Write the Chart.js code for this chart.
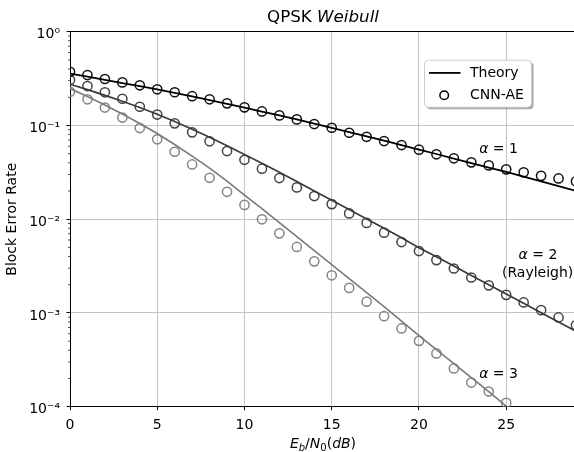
<!DOCTYPE html>
<html><head><meta charset="utf-8">
<script src="https://cdn.jsdelivr.net/npm/chart.js@4.4.1/dist/chart.umd.min.js"></script>
<style>
html,body{margin:0;padding:0;overflow:hidden;background:#fff;width:574px;height:452px}
#wrap{position:absolute;left:0;top:0;width:600px;height:452px}
</style>
</head><body><div id="wrap"><canvas id="c" width="600" height="452"></canvas></div>
<script>
// ---------- data ----------
const snrDb = [0,1,2,3,4,5,6,7,8,9,10,11,12,13,14,15,16,17,18,19,20,21,22,23,24,25,26,27,28,29];
const theoryA1 = [0.358,0.3318,0.3067,0.2835,0.2621,0.2422,0.2228,0.2040,0.1862,0.1696,0.1545,0.1407,0.1279,0.1159,0.1048,0.0945,0.0850,0.0765,0.0687,0.0616,0.0553,0.0496,0.0444,0.0397,0.0355,0.0320,0.0284,0.0253,0.02255,0.02004];
const cnnA1 = [0.374,0.345,0.313,0.288,0.268,0.243,0.226,0.205,0.190,0.172,0.156,0.141,0.128,0.116,0.1035,0.0945,0.0836,0.0757,0.0682,0.0618,0.0551,0.0492,0.0446,0.0404,0.0375,0.034,0.0316,0.029,0.0272,0.0253];
const theoryA2 = [0.2752,0.2410,0.2096,0.1813,0.1552,0.1317,0.1100,0.0911,0.0748,0.0609,0.0491,0.0395,0.0316,0.0252,0.02004,0.01595,0.01266,0.01007,0.00800,0.00633,0.00497,0.00397,0.00316,0.00251,0.00200,0.00159,0.001266,0.001007,0.000801,0.000638];
const cnnA2 = [0.3051,0.2633,0.2256,0.1927,0.1583,0.1307,0.1053,0.0844,0.0677,0.0533,0.0430,0.0346,0.02745,0.02185,0.01764,0.01449,0.01153,0.00913,0.00719,0.00570,0.00457,0.00366,0.00298,0.00239,0.00197,0.00156,0.001294,0.001071,0.000895,0.000741];
const theoryA3 = [0.2477,0.2034,0.1651,0.1323,0.1048,0.0820,0.0626,0.0471,0.0351,0.0255,0.0181,0.01297,0.00920,0.00652,0.00462,0.00328,0.00232,0.00165,0.001167,0.000818,0.000572,0.000406,0.000288,0.000204,0.0001446,0.0001012,0.0000718];
const cnnA3 = [0.2289,0.1899,0.1552,0.1214,0.0938,0.0711,0.0524,0.0384,0.02765,0.01961,0.01421,0.00998,0.00706,0.00506,0.00355,0.00252,0.00185,0.00132,0.000924,0.000683,0.000504,0.000370,0.000256,0.000181,0.0001453,0.0001098];

const xTicks = [0,5,10,15,20,25];
const yMajorTicks = [1,0.1,0.01,0.001,0.0001];
const yTickLabels = ['10\u2070','10\u207B\u00B9','10\u207B\u00B2','10\u207B\u00B3','10\u207B\u2074'];
const legendLabels = ['Theory','CNN-AE'];
const curveLabels = [
  {parts:[['\u03B1',true],[' = 1',false]], x:24.56, y:0.0504},
  {parts:[['\u03B1',true],[' = 2',false]], x:26.82, y:0.00372},
  {parts:[['(Rayleigh)',false]], x:26.8, y:0.00241},
  {parts:[['\u03B1',true],[' = 3',false]], x:24.56, y:0.000203}
];

// ---------- helpers ----------
const FONT = '"DejaVu Sans", sans-serif';
const pts = (arr) => arr.map((v,i)=>({x:snrDb[i], y:v}));
const isMajor = v => Math.abs(Math.log10(v) - Math.round(Math.log10(v))) < 1e-6;
const align = (p,w) => Math.round(p - w/2) + w/2;

function lineDs(data,color,width){
  return {data:pts(data), showLine:true, borderColor:color, borderWidth:width, pointRadius:0, pointHoverRadius:0, fill:false, tension:0};
}
function markDs(data,color){
  return {data:pts(data), showLine:false, pointStyle:'circle', pointRadius:4.6, pointBorderWidth:1.5,
          pointBorderColor:color, pointBackgroundColor:'rgba(0,0,0,0)', pointHoverRadius:4.6};
}

function drawParts(ctx, parts, cx, baseline, size){
  let w = 0;
  const fonts = parts.map(p => (p[1]?'italic ':'') + size + 'px ' + FONT);
  parts.forEach((p,i)=>{ctx.font=fonts[i]; w += ctx.measureText(p[0]).width;});
  let xx = cx - w/2;
  ctx.textAlign='left'; ctx.textBaseline='alphabetic';
  parts.forEach((p,i)=>{ctx.font=fonts[i]; ctx.fillText(p[0], xx, baseline); xx += ctx.measureText(p[0]).width;});
}

const decor = {
  id:'decor',
  afterDraw(chart){
    const {ctx, chartArea:a, scales:{x,y}} = chart;
    ctx.save();
    // spines (top & right)
    ctx.strokeStyle='#000'; ctx.lineWidth=1;
    ctx.beginPath();
    ctx.moveTo(a.left, align(a.top,1)); ctx.lineTo(a.right, align(a.top,1));
    ctx.moveTo(align(a.right,1), a.top); ctx.lineTo(align(a.right,1), a.bottom);
    ctx.stroke();
    // tick marks
    ctx.beginPath(); ctx.lineWidth=1;
    xTicks.forEach(v=>{const p=align(x.getPixelForValue(v),1); ctx.moveTo(p,a.bottom); ctx.lineTo(p,a.bottom+3.5);});
    yMajorTicks.forEach(v=>{const p=align(y.getPixelForValue(v),1); ctx.moveTo(a.left-3.5,p); ctx.lineTo(a.left,p);});
    ctx.stroke();
    ctx.beginPath(); ctx.lineWidth=0.7;
    y.ticks.forEach(t=>{ if(!isMajor(t.value)){const p=y.getPixelForValue(t.value); ctx.moveTo(a.left-2,p); ctx.lineTo(a.left,p);} });
    ctx.stroke();

    ctx.fillStyle='#000';
    // title
    const cx = (a.left+a.right)/2;
    drawParts(ctx, [['QPSK ',false],['Weibull',true]], cx, a.top-10, 16.7);
    // x label
    const xl = [['E',true,14,0],['b',true,10,3],['/',false,14,0],['N',true,14,0],['0',false,10,3],['(',false,14,0],['dB',true,14,0],[')',false,14,0]];
    let w=0; xl.forEach(p=>{ctx.font=(p[1]?'italic ':'')+p[2]+'px '+FONT; w+=ctx.measureText(p[0]).width;});
    let xx = cx - w/2; const bl = a.bottom + 41.5;
    ctx.textAlign='left'; ctx.textBaseline='alphabetic';
    xl.forEach(p=>{ctx.font=(p[1]?'italic ':'')+p[2]+'px '+FONT; ctx.fillText(p[0],xx,bl+p[3]); xx+=ctx.measureText(p[0]).width;});
    // y label
    ctx.save();
    ctx.translate(16,(a.top+a.bottom)/2); ctx.rotate(-Math.PI/2);
    ctx.font='14px '+FONT; ctx.textAlign='center'; ctx.textBaseline='alphabetic';
    ctx.fillText('Block Error Rate',0,0);
    ctx.restore();
    // curve labels
    curveLabels.forEach(c=>{ drawParts(ctx, c.parts, x.getPixelForValue(c.x), y.getPixelForValue(c.y), 14); });
    // legend
    const lx = a.left+354.5, ly = a.top+28.5, lw = 107, lh = 47;
    const rr = (X,Y,W,H,r)=>{ctx.beginPath();ctx.moveTo(X+r,Y);ctx.lineTo(X+W-r,Y);ctx.quadraticCurveTo(X+W,Y,X+W,Y+r);ctx.lineTo(X+W,Y+H-r);ctx.quadraticCurveTo(X+W,Y+H,X+W-r,Y+H);ctx.lineTo(X+r,Y+H);ctx.quadraticCurveTo(X,Y+H,X,Y+H-r);ctx.lineTo(X,Y+r);ctx.quadraticCurveTo(X,Y,X+r,Y);ctx.closePath();};
    ctx.fillStyle='rgba(0,0,0,0.35)'; rr(lx+2,ly+2,lw,lh,4); ctx.fill();
    ctx.fillStyle='#fff'; rr(lx,ly,lw,lh,4); ctx.fill();
    ctx.strokeStyle='#cccccc'; ctx.lineWidth=1; ctx.stroke();
    ctx.strokeStyle='#000'; ctx.lineWidth=1.8;
    ctx.beginPath(); ctx.moveTo(lx+4.5, ly+42.2-29.5); ctx.lineTo(lx+36, ly+12.7); ctx.stroke();
    ctx.lineWidth=1.5; ctx.beginPath(); ctx.arc(lx+19.7, ly+35, 4.3, 0, Math.PI*2); ctx.stroke();
    ctx.fillStyle='#000'; ctx.font='14px '+FONT; ctx.textAlign='left'; ctx.textBaseline='middle';
    ctx.fillText(legendLabels[0], lx+45.5, ly+13);
    ctx.fillText(legendLabels[1], lx+45.5, ly+35.5);
    ctx.restore();
  }
};

new Chart(document.getElementById('c'), {
  type:'scatter',
  data:{datasets:[
    lineDs(theoryA1,'#000000',1.8),
    markDs(cnnA1,'#111111'),
    lineDs(theoryA2,'#3a3a3a',1.7),
    markDs(cnnA2,'#444444'),
    lineDs(theoryA3,'#7a7a7a',1.6),
    markDs(cnnA3,'#858585')
  ]},
  options:{
    responsive:false, animation:false, devicePixelRatio:1,
    layout:{padding:{top:31.7,right:24,left:0,bottom:0}},
    plugins:{legend:{display:false}, tooltip:{enabled:false}, title:{display:false}},
    scales:{
      x:{type:'linear', min:0, max:29,
        afterBuildTicks:s=>{s.ticks = xTicks.map(v=>({value:v}));},
        afterFit:s=>{s.height=45.3;},
        grid:{color:'#c4c4c4', lineWidth:1, drawTicks:false},
        border:{display:true, color:'#000', width:1},
        ticks:{padding:10, color:'#000', font:{family:'DejaVu Sans', size:14}, maxRotation:0, autoSkip:false, callback:v=>String(v)}
      },
      y:{type:'logarithmic', min:0.0001, max:1,
        afterBuildTicks:s=>{
          const t=[];
          yMajorTicks.forEach(m=>{ t.push({value:m}); if(m<1){ for(let k=2;k<=9;k++) t.push({value:m*k}); } });
          s.ticks = t.sort((a,b)=>a.value-b.value);
        },
        afterFit:s=>{s.width=70;},
        grid:{color:c=> (c.tick && isMajor(c.tick.value)) ? '#c4c4c4' : 'rgba(0,0,0,0)', lineWidth:1, drawTicks:false},
        border:{display:true, color:'#000', width:1},
        ticks:{padding:10, labelOffset:3, color:'#000', font:{family:'DejaVu Sans', size:14}, autoSkip:false,
          callback:(v)=>{ const i = yMajorTicks.findIndex(m=>Math.abs(m-v)/m<1e-6); return i>=0 ? yTickLabels[i] : ''; }}
      }
    }
  },
  plugins:[decor]
});
</script>
</body></html>
